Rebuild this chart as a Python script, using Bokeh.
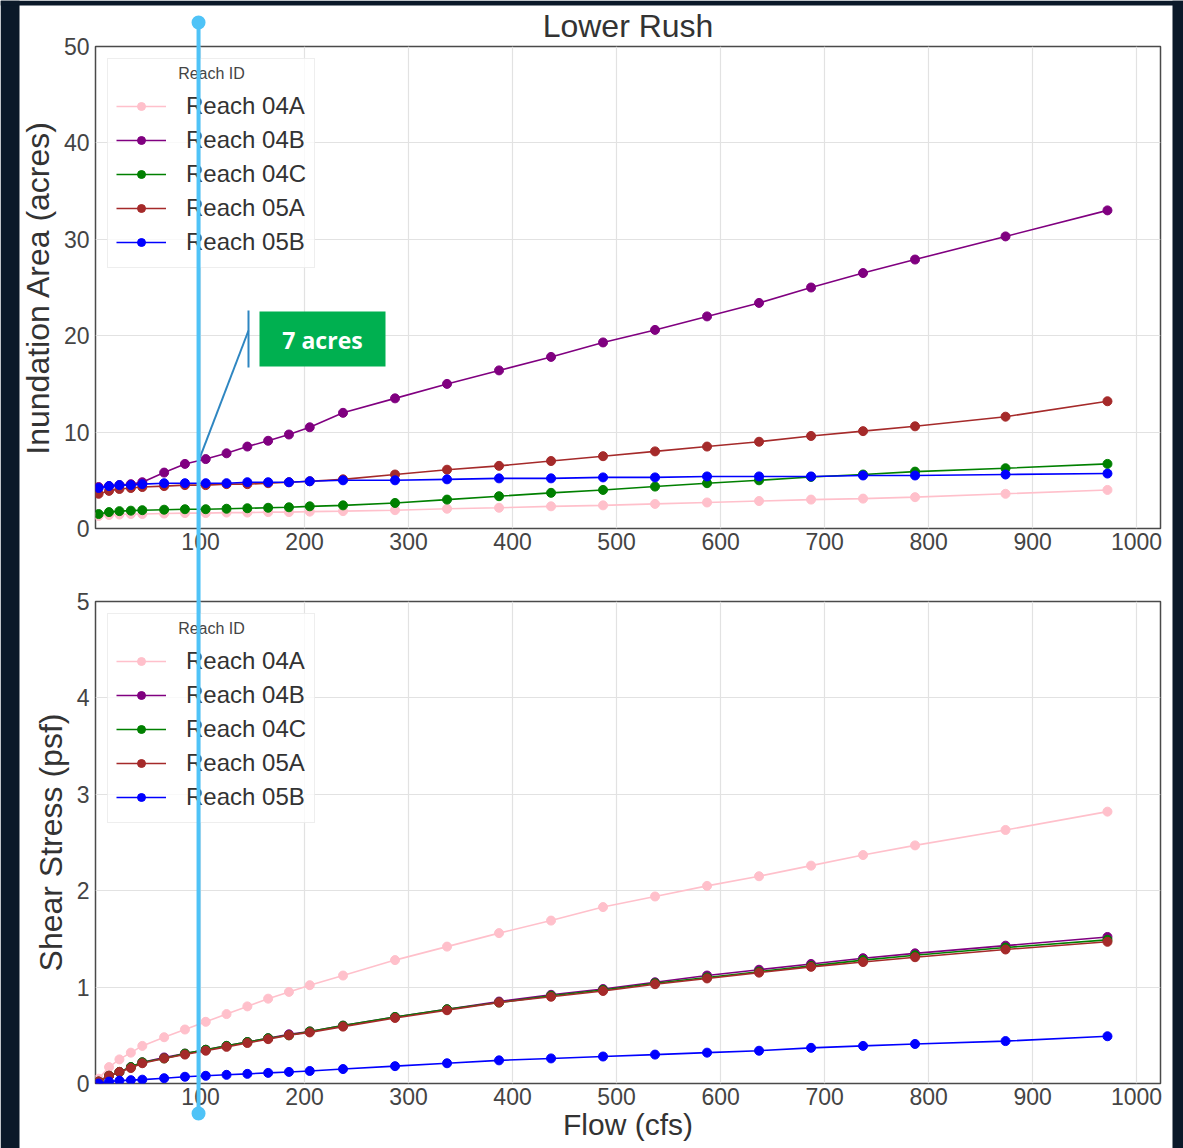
from bokeh.plotting import figure
from bokeh.models import Range1d, FixedTicker, Legend, LegendItem, GridBox, Column
from bokeh.embed import file_html
from bokeh.resources import INLINE
from bokeh.core.properties import value

# ---------------- data ----------------
flow = [2, 12, 22, 33, 44, 65, 85, 105, 125, 145, 165, 185, 205, 237, 287, 337,
        387, 437, 487, 537, 587, 637, 687, 737, 787, 874, 972]

reaches = ["Reach 04A", "Reach 04B", "Reach 04C", "Reach 05A", "Reach 05B"]
colors = ["pink", "purple", "green", "brown", "blue"]

area_04A = [1.3, 1.4, 1.45, 1.5, 1.5, 1.55, 1.6, 1.6, 1.65, 1.65, 1.7, 1.7, 1.75, 1.8,
            1.9, 2.05, 2.15, 2.3, 2.4, 2.55, 2.7, 2.85, 3.0, 3.1, 3.25, 3.6, 4.0]
area_04B = [4.3, 4.4, 4.5, 4.6, 4.8, 5.8, 6.7, 7.2, 7.8, 8.5, 9.1, 9.75, 10.5, 12.0,
            13.5, 15.0, 16.4, 17.8, 19.3, 20.6, 22.0, 23.4, 25.0, 26.5, 27.9, 30.3, 33.0]
area_04C = [1.5, 1.7, 1.8, 1.85, 1.9, 1.95, 2.0, 2.0, 2.05, 2.1, 2.15, 2.2, 2.3, 2.4,
            2.65, 3.0, 3.35, 3.7, 4.0, 4.35, 4.7, 5.0, 5.35, 5.6, 5.9, 6.25, 6.7]
area_05A = [3.6, 3.9, 4.1, 4.2, 4.3, 4.4, 4.5, 4.5, 4.6, 4.6, 4.7, 4.8, 4.9, 5.1,
            5.6, 6.1, 6.5, 7.0, 7.5, 8.0, 8.5, 9.0, 9.6, 10.1, 10.6, 11.6, 13.2]
area_05B = [4.2, 4.4, 4.5, 4.5, 4.6, 4.7, 4.7, 4.7, 4.7, 4.8, 4.8, 4.8, 4.9, 5.0,
            5.0, 5.1, 5.2, 5.2, 5.3, 5.3, 5.4, 5.4, 5.4, 5.5, 5.5, 5.6, 5.7]

shear_04A = [0.05, 0.17, 0.25, 0.32, 0.39, 0.48, 0.56, 0.64, 0.72, 0.80, 0.88, 0.95, 1.02, 1.12,
             1.28, 1.42, 1.56, 1.69, 1.83, 1.94, 2.05, 2.15, 2.26, 2.37, 2.47, 2.63, 2.82]
shear_04B = [0.02, 0.08, 0.12, 0.17, 0.22, 0.27, 0.31, 0.35, 0.39, 0.43, 0.47, 0.51, 0.54, 0.60,
             0.69, 0.77, 0.85, 0.92, 0.98, 1.05, 1.12, 1.18, 1.24, 1.30, 1.35, 1.43, 1.52]
shear_04C = [0.02, 0.08, 0.12, 0.17, 0.22, 0.26, 0.31, 0.35, 0.39, 0.43, 0.47, 0.50, 0.54, 0.60,
             0.69, 0.77, 0.84, 0.91, 0.97, 1.04, 1.10, 1.16, 1.22, 1.28, 1.33, 1.41, 1.49]
shear_05A = [0.02, 0.08, 0.12, 0.16, 0.21, 0.26, 0.30, 0.34, 0.38, 0.42, 0.46, 0.50, 0.53, 0.59,
             0.68, 0.76, 0.84, 0.90, 0.96, 1.03, 1.09, 1.15, 1.21, 1.26, 1.31, 1.39, 1.47]
shear_05B = [0.0, 0.02, 0.03, 0.035, 0.04, 0.055, 0.07, 0.08, 0.09, 0.10, 0.11, 0.12, 0.13, 0.15,
             0.18, 0.21, 0.24, 0.26, 0.28, 0.30, 0.32, 0.34, 0.37, 0.39, 0.41, 0.44, 0.49]

x_ticks = [100, 200, 300, 400, 500, 600, 700, 800, 900, 1000]
area_ticks = [0, 10, 20, 30, 40, 50]
shear_ticks = [0, 1, 2, 3, 4, 5]

callout_flow = 100
callout_area = 7
callout_text = "7 acres"

# ---------------- layout constants ----------------
W, H = 1183, 1148
BG = "#0b1929"
FRAME_L, FRAME_R = 95, 1160
XMIN, XMAX = -1, 1023
P1_H, P2_H = 565, 583
P1_TOP, P1_BOT = 46, 37
P2_TOP, P2_BOT = 36, 65
FONT = "Liberation Sans"


def make_panel(height, top, bottom, y_end, ticks, ylabel, series, title=None, xlabel=None):
    kw = {}
    if title:
        kw["title"] = title
    p = figure(width=W, height=height, output_backend="svg", toolbar_location=None,
               x_range=Range1d(XMIN, XMAX), y_range=Range1d(0, y_end),
               min_border_left=FRAME_L, min_border_right=W - FRAME_R,
               min_border_top=top, min_border_bottom=bottom,
               background_fill_color="white", border_fill_color="white",
               outline_line_color="#4a4a4a", outline_line_width=1.5, **kw)
    if title:
        p.title.align = "center"
        p.title.text_font = FONT
        p.title.text_font_size = "32px"
        p.title.text_font_style = "normal"
        p.title.text_color = "#333333"
        p.title.standoff = 5
    p.xaxis.ticker = FixedTicker(ticks=x_ticks)
    p.yaxis.ticker = FixedTicker(ticks=ticks)
    for ax in (p.xaxis, p.yaxis):
        ax.axis_line_color = None
        ax.major_tick_line_color = None
        ax.minor_tick_line_color = None
        ax.major_tick_out = 0
        ax.major_tick_in = 0
        ax.major_label_text_font = FONT
        ax.major_label_text_font_size = "23px"
        ax.major_label_text_color = "#444444"
        ax.axis_label_text_font = FONT
        ax.axis_label_text_font_style = "normal"
        ax.axis_label_text_color = "#333333"
    p.yaxis.axis_label_text_font_size = "32px"
    p.xaxis.axis_label_text_font_size = "30px"
    p.yaxis.major_label_standoff = 6
    p.yaxis.axis_label_standoff = 5
    p.yaxis.axis_label = ylabel
    p.xaxis.major_label_standoff = 4
    p.xaxis.axis_label_standoff = 0
    if xlabel:
        p.xaxis.axis_label = xlabel
    p.grid.grid_line_color = "#e2e2e2"
    p.grid.grid_line_width = 1.2

    items = []
    for name, col, ys in zip(reaches, colors, series):
        lr = p.line(flow, ys, line_color=col, line_width=1.6)
        sr = p.scatter(flow, ys, size=9, fill_color=col, line_color=col)
        items.append(LegendItem(label=name, renderers=[lr, sr]))
    leg = Legend(items=items, location="top_left", margin=12, padding=8,
                 title=" ", title_text_font_size="16px", title_standoff=4,
                 label_text_font=FONT, label_text_font_size="24px", label_text_color="#333333",
                 glyph_width=50, glyph_height=20, label_height=34, label_standoff=20, spacing=0,
                 border_line_color="#dddddd", border_line_width=1,
                 background_fill_color="white", background_fill_alpha=0.8)
    p.add_layout(leg)
    return p


p1 = make_panel(P1_H, P1_TOP, P1_BOT, 50, area_ticks, "Inundation Area (acres)",
                [area_04A, area_04B, area_04C, area_05A, area_05B], title="Lower Rush")
p2 = make_panel(P2_H, P2_TOP, P2_BOT, 5, shear_ticks, "Shear Stress (psf)",
                [shear_04A, shear_04B, shear_04C, shear_05A, shear_05B], xlabel="Flow (cfs)")

# ---------------- overlay (page pixel coordinates) ----------------
def flow_px(f):
    return FRAME_L + (f - XMIN) / (XMAX - XMIN) * (FRAME_R - FRAME_L)


def area_px(v):
    f_top, f_bot = P1_TOP, P1_H - P1_BOT
    return f_bot - v / 50 * (f_bot - f_top)


ov = figure(width=W, height=H, x_range=Range1d(0, W), y_range=Range1d(H, 0),
            x_axis_type=None, y_axis_type=None, output_backend="svg", toolbar_location=None,
            min_border=0, min_border_left=0, min_border_right=0, min_border_top=0, min_border_bottom=0,
            background_fill_color=None, border_fill_color=None, outline_line_color=None)

# dark page margins
ov.quad(left=[0, 0, 1172], right=[19, W, W], top=[0, 0, 0], bottom=[H, 5, H],
        fill_color=BG, line_color=None)

# legend titles
ov.text(x=[211, 211], y=[73, 628], text=["Reach ID", "Reach ID"], text_align="center",
        text_baseline="middle", text_font=value(FONT), text_font_size="16px", text_color="#444444")

# callout
xv = flow_px(callout_flow) - 2
yv = area_px(callout_area)
ov.segment(x0=[xv], y0=[yv], x1=[248], y1=[330], line_color="#2e86c1", line_width=2)
ov.segment(x0=[248], y0=[310], x1=[248], y1=[367], line_color="#2e86c1", line_width=2)
ov.quad(left=[259], right=[385], top=[311], bottom=[366], fill_color="#00b050", line_color=None)
ov.text(x=[322], y=[339], text=[callout_text], text_align="center", text_baseline="middle",
        text_font=value("Open Sans"), text_font_style="bold", text_font_size="23px",
        text_color="white")

# vertical marker line
ov.segment(x0=[xv], y0=[22], x1=[xv], y1=[1113], line_color="#4fc3f7", line_width=4)
ov.scatter(x=[xv, xv], y=[22, 1113], size=14, fill_color="#4fc3f7", line_color=None)

stack = Column(children=[p1, p2], spacing=0)
grid = GridBox(children=[(stack, 0, 0), (ov, 0, 0)], spacing=0)

open("out.html", "w").write(file_html(grid, INLINE))
